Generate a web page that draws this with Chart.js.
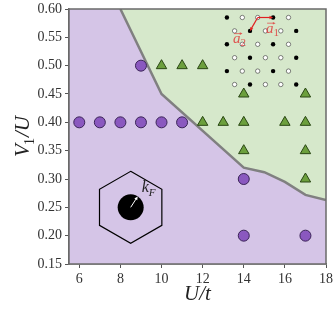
<!DOCTYPE html>
<html>
<head>
<meta charset="utf-8">
<script src="https://cdn.jsdelivr.net/npm/chart.js@4"></script>
<style>
  html, body { margin: 0; padding: 0; background: #fff; }
</style>
</head>
<body>
<canvas id="chart" width="333" height="322"></canvas>
<script>
// ticks
const xTicks = [6, 8, 10, 12, 14, 16, 18];
const yTicks = [0.15, 0.20, 0.25, 0.30, 0.35, 0.40, 0.45, 0.50, 0.55, 0.60];
const xMin = 5.5, xMax = 18, yMin = 0.15, yMax = 0.60;

// phase boundary
const boundaryU = [8, 10, 14, 15, 16, 17, 18];
const boundaryV = [0.60, 0.45, 0.32, 0.312, 0.295, 0.272, 0.263];

// purple circles
const circleU = [6, 7, 8, 9, 10, 11, 9, 14, 14, 17];
const circleV = [0.40, 0.40, 0.40, 0.40, 0.40, 0.40, 0.50, 0.30, 0.20, 0.20];

// green triangles
const triU = [10, 11, 12, 14, 17, 12, 13, 14, 16, 17, 14, 17, 17];
const triV = [0.50, 0.50, 0.50, 0.45, 0.45, 0.40, 0.40, 0.40, 0.40, 0.40, 0.35, 0.35, 0.30];

// lattice sketch (B = filled, W = empty)
const latticeRows = ['BWWBW', 'WBWWB', 'BWWBW', 'WBWWB', 'BWWBW', 'WBWWB'];

const SERIF = '"Liberation Serif", "DejaVu Serif", serif';

function pts(xs, ys) { return xs.map((x, i) => ({ x, y: ys[i] })); }

function arrow(ctx, x1, y1, x2, y2, color, w, head) {
  const a = Math.atan2(y2 - y1, x2 - x1);
  ctx.save();
  ctx.strokeStyle = color; ctx.fillStyle = color; ctx.lineWidth = w;
  ctx.beginPath();
  ctx.moveTo(x1, y1);
  ctx.lineTo(x2 - Math.cos(a) * head * 0.8, y2 - Math.sin(a) * head * 0.8);
  ctx.stroke();
  ctx.beginPath();
  ctx.moveTo(x2, y2);
  ctx.lineTo(x2 - head * Math.cos(a - 0.45), y2 - head * Math.sin(a - 0.45));
  ctx.lineTo(x2 - head * Math.cos(a + 0.45), y2 - head * Math.sin(a + 0.45));
  ctx.closePath();
  ctx.fill();
  ctx.restore();
}

// italic symbol + subscript, starting at x (left), baseline y
function symSub(ctx, sym, sub, x, y, size, color, vec) {
  ctx.save();
  ctx.fillStyle = color;
  ctx.textBaseline = 'alphabetic';
  ctx.textAlign = 'left';
  ctx.font = 'italic ' + size + 'px ' + SERIF;
  ctx.fillText(sym, x, y);
  const w = ctx.measureText(sym).width;
  if (vec) arrow(ctx, x + 1, y - size * 0.62, x + w + 2, y - size * 0.62, color, 0.8, 3);
  ctx.font = (vec ? '' : 'italic ') + Math.round(size * 0.7) + 'px ' + SERIF;
  ctx.fillText(sub, x + w, y + size * 0.22);
  ctx.restore();
}

const decor = {
  id: 'decor',
  afterDatasetsDraw(chart) {
    const ctx = chart.ctx;
    const xs = chart.scales.x, ys = chart.scales.y;
    const a = chart.chartArea;

    // Fermi surface sketch
    const cx = xs.getPixelForValue(8.5), cy = ys.getPixelForValue(0.25);
    const R = 36;
    ctx.save();
    ctx.strokeStyle = '#000'; ctx.lineWidth = 1.2;
    ctx.beginPath();
    for (let k = 0; k < 6; k++) {
      const t = -Math.PI / 2 + k * Math.PI / 3;
      const px = cx + R * Math.cos(t), py = cy + R * Math.sin(t);
      k ? ctx.lineTo(px, py) : ctx.moveTo(px, py);
    }
    ctx.closePath(); ctx.stroke();
    ctx.fillStyle = '#000';
    ctx.beginPath(); ctx.arc(cx, cy, 13, 0, Math.PI * 2); ctx.fill();
    ctx.restore();
    arrow(ctx, cx, cy, cx + 13 * Math.cos(-1.0), cy + 13 * Math.sin(-1.0), '#fff', 1, 4);
    symSub(ctx, 'k', 'F', cx + 11, cy - 15, 16, '#222', false);

    // lattice sketch, top right
    const lx = xs.getPixelForValue(13.18), ly = ys.getPixelForValue(0.585);
    const dx = 15.4, dy = 13.4;
    const pos = (r, c) => [lx + c * dx + (r % 2) * dx / 2, ly + r * dy];
    ctx.save();
    latticeRows.forEach((row, r) => {
      [...row].forEach((ch, c) => {
        const [px, py] = pos(r, c);
        ctx.beginPath(); ctx.arc(px, py, 2.2, 0, Math.PI * 2);
        if (ch === 'B') { ctx.fillStyle = '#000'; ctx.fill(); }
        else { ctx.fillStyle = '#fff'; ctx.fill(); ctx.strokeStyle = '#333'; ctx.lineWidth = 0.6; ctx.stroke(); }
      });
    });
    ctx.restore();
    const [ox, oy] = pos(0, 2), [p1x, p1y] = pos(0, 3), [p2x, p2y] = pos(1, 1);
    arrow(ctx, ox, oy, p1x, p1y, '#e02020', 1.2, 4);
    arrow(ctx, ox, oy, p2x, p2y, '#e02020', 1.2, 4);
    symSub(ctx, 'a', '1', p1x - 7, p1y + 15, 15, 'rgba(225,60,60,0.85)', true);
    symSub(ctx, 'a', '2', p2x - 17, p2y + 12, 15, 'rgba(225,60,60,0.85)', true);

    // frame
    ctx.save();
    ctx.strokeStyle = '#6a6a6a'; ctx.lineWidth = 1.5;
    ctx.strokeRect(a.left, a.top, a.right - a.left, a.bottom - a.top);
    ctx.restore();
  },
  afterDraw(chart) {
    const ctx = chart.ctx;
    const a = chart.chartArea;
    ctx.save();
    ctx.fillStyle = '#222';
    ctx.textBaseline = 'alphabetic';
    // x title
    ctx.font = 'italic 21px ' + SERIF;
    ctx.textAlign = 'center';
    ctx.fillText('U/t', (a.left + a.right) / 2, 300);
    // y title
    ctx.translate(29, (a.top + a.bottom) / 2);
    ctx.rotate(-Math.PI / 2);
    ctx.font = 'italic 21px ' + SERIF;
    const wV = ctx.measureText('V').width;
    ctx.font = '14px ' + SERIF;
    const w1 = ctx.measureText('1').width;
    ctx.font = 'italic 21px ' + SERIF;
    const wU = ctx.measureText('/U').width;
    let x = -(wV + w1 + wU) / 2;
    ctx.textAlign = 'left';
    ctx.fillText('V', x, 0); x += wV;
    ctx.font = '14px ' + SERIF;
    ctx.fillText('1', x - 1, 5); x += w1;
    ctx.font = 'italic 21px ' + SERIF;
    ctx.fillText('/U', x, 0);
    ctx.restore();
  }
};

const ctx = document.getElementById('chart').getContext('2d');
new Chart(ctx, {
  data: {
    datasets: [
      {
        type: 'scatter',
        data: pts(circleU, circleV),
        pointStyle: 'circle',
        pointRadius: 5.5,
        backgroundColor: '#8a58bf',
        borderColor: '#3b2458',
        borderWidth: 1,
        order: 0
      },
      {
        type: 'scatter',
        data: pts(triU, triV),
        pointStyle: 'triangle',
        pointRadius: 6,
        backgroundColor: '#6c9f3d',
        borderColor: '#2a4714',
        borderWidth: 1,
        order: 0
      },
      {
        type: 'line',
        data: pts(boundaryU, boundaryV),
        borderColor: '#808080',
        borderWidth: 2.5,
        backgroundColor: '#d6e8cb',
        fill: 'end',
        pointRadius: 0,
        tension: 0,
        order: 1
      },
      {
        type: 'line',
        data: [{ x: xMin, y: yMax }].concat(pts(boundaryU, boundaryV)),
        borderWidth: 0,
        borderColor: 'rgba(0,0,0,0)',
        backgroundColor: '#d5c5e7',
        fill: 'start',
        pointRadius: 0,
        tension: 0,
        order: 2
      }
    ]
  },
  options: {
    responsive: false,
    animation: false,
    devicePixelRatio: 1,
    layout: { padding: { top: 9, right: 7, left: 0, bottom: 0 } },
    plugins: { legend: { display: false }, tooltip: { enabled: false } },
    scales: {
      x: {
        type: 'linear',
        min: xMin, max: xMax,
        afterBuildTicks: s => { s.ticks = xTicks.map(v => ({ value: v })); },
        afterFit: s => { s.height = 58; s.paddingLeft = 0; s.paddingRight = 0; },
        ticks: {
          font: { family: SERIF, size: 14 },
          color: '#333',
          padding: 3,
          maxRotation: 0,
          callback: v => String(v)
        },
        grid: { drawOnChartArea: false, drawTicks: true, tickLength: 4, color: '#555' },
        border: { display: true, color: '#6a6a6a', width: 1.5 }
      },
      y: {
        type: 'linear',
        min: yMin, max: yMax,
        afterBuildTicks: s => { s.ticks = yTicks.map(v => ({ value: v })); },
        afterFit: s => { s.width = 69; s.paddingTop = 0; s.paddingBottom = 0; },
        ticks: {
          font: { family: SERIF, size: 14 },
          color: '#333',
          padding: 3,
          callback: v => Number(v).toFixed(2)
        },
        grid: { drawOnChartArea: false, drawTicks: true, tickLength: 4, color: '#555' },
        border: { display: true, color: '#6a6a6a', width: 1.5 }
      }
    }
  },
  plugins: [decor]
});
</script>
</body>
</html>
